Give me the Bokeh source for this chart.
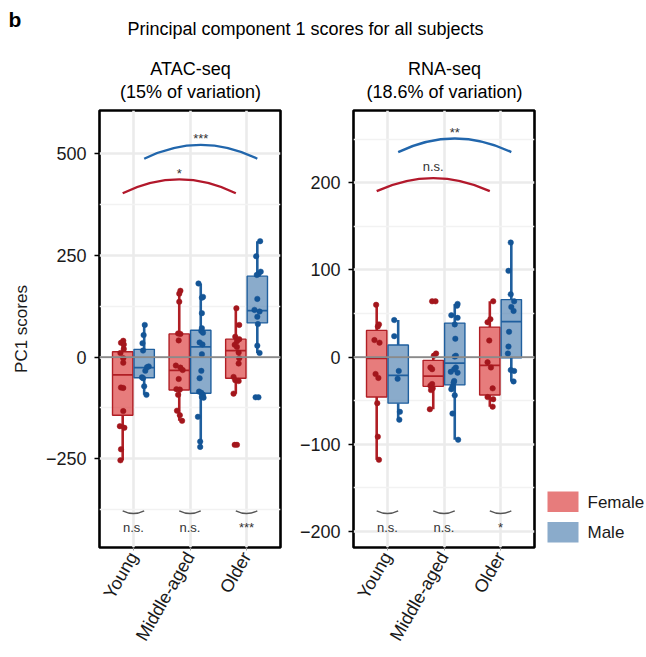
import math
from bokeh.plotting import figure
from bokeh.layouts import column, row
from bokeh.models import Range1d, FixedTicker, Span
from bokeh.embed import file_html
from bokeh.resources import INLINE
from bokeh.core.properties import value

CATEGORIES = ["Young", "Middle-aged", "Older"]
SEXES = ["Female", "Male"]

# ---------------- ATAC-seq PC1 scores ----------------
atac_female = [
    [40, 35, 31, 20, 10, -3, -14, -75, -76, -133, -170, -174, -227, -254],
    [163, 156, 136, 58, 57, 41, -21, -26, -32, -54, -79, -80, -93, -132, -143, -157],
    [120, 79, 50, 44, 39, 30, 25, 11, -3, -16, -49, -57, -59, -90, -216, -216],
]
atac_female_jitter = [
    [0.01, -0.03, 0.02, 0.02, -0.04, 0.01, 0.01, -0.03, 0.01, 0.01, -0.05, 0.03, -0.03, -0.04],
    [0.02, 0, 0, -0.02, 0.02, -0.01, -0.06, 0.02, 0.06, -0.01, -0.05, 0.01, -0.02, -0.04, 0.01, 0.05],
    [0.01, 0.06, -0.01, 0.06, 0.02, -0.02, 0.02, 0.05, 0.06, 0.05, -0.04, -0.01, 0.05, -0.04, -0.02, 0.02],
]
atac_male = [
    [79, 54, 34, 16, -23, -25, -34, -50, -52, -72, -93],
    [181, 148, 146, 108, 71, 64, 60, 36, 31, 7, -34, -52, -85, -88, -93, -98, -100, -147, -208, -221],
    [285, 248, 210, 204, 202, 143, 116, 112, 99, 81, 28, 10, -99, -99],
]
atac_male_jitter = [
    [0.01, -0.01, -0.03, -0.02, 0.08, 0.05, 0.02, -0.04, -0.02, 0.0, 0.04],
    [-0.04, 0.04, 0.02, 0.02, 0.02, 0.01, 0.04, -0.02, 0.03, 0.02, 0.01, -0.02, -0.03, 0.01, 0.04, 0.02, 0.05, -0.05, -0.01, -0.01],
    [0.05, -0.02, 0.06, 0.02, -0.01, 0, -0.05, 0.04, 0, 0.01, 0, 0.04, -0.03, 0.02],
]
# box stats per category: [lower whisker, Q1, median, Q3, upper whisker]
atac_female_box = [[-254, -143, -44, 13, 40], [-157, -81, -33, 57, 163], [-90, -52, 16, 44, 120]]
atac_male_box = [[-93, -51, -26, 19, 79], [-221, -89, 25, 66, 181], [10, 84, 114, 199, 285]]
atac_ticks = [-250, 0, 250, 500]
atac_tick_labels = ["\u2212250", "0", "250", "500"]
atac_minor_ticks = [-375, -125, 125, 375]
atac_ylim = [-468.5, 606.5]
# age comparisons (Young vs Older) per sex: [end height, apex height], label
atac_arc_female = [403, 437]
atac_arc_male = [488, 522]
atac_sig_top = ["*", "***"]
atac_sig_top_y = [452, 538]
# sex comparisons within each age group
atac_sig_bottom = ["n.s.", "n.s.", "***"]
atac_bottom_arc = [-378.5, -385]
atac_bottom_label_y = -419

# ---------------- RNA-seq PC1 scores ----------------
rna_female = [
    [60, 37.5, 35, 19.5, 16.5, -19.5, -24, -53, -91.5, -118],
    [64, 64, 4, 1.5, -12, -14, -31, -33, -36, -38, -60],
    [64, 43.5, 40, 19, -6, -12, -36, -46, -48.5, -57],
]
rna_female_jitter = [
    [-0.01, 0.04, 0.02, -0.04, 0.05, -0.02, 0.03, 0.01, 0.02, 0.04],
    [-0.02, 0.04, 0.05, 0.01, -0.05, -0.02, -0.02, -0.05, -0.01, -0.04, -0.06],
    [0.06, 0.01, -0.04, -0.01, -0.04, 0.02, 0.05, -0.04, 0.06, 0.05],
]
rna_male = [
    [42.5, 24, -16, -25, -63, -72],
    [61, 59, 48, 45, 37.5, 21, 1.5, 0.5, -12, -14, -17, -18, -27.5, -29.5, -34, -37, -44, -65, -95],
    [131.5, 99, 72, 64, 57.5, 53, 29, 12, 4, -15, -16, -28],
]
rna_male_jitter = [
    [-0.07, -0.07, 0.01, -0.01, 0.03, 0.02],
    [0.05, 0.04, -0.06, 0.05, 0, 0.01, 0.02, 0, 0.02, -0.01, -0.07, 0.05, -0.01, -0.02, -0.04, -0.06, 0, -0.04, 0.06],
    [-0.01, -0.05, -0.01, 0.05, 0, 0.04, -0.04, -0.05, -0.06, -0.01, 0.05, 0.04],
]
rna_female_box = [[-118, -46, -1.5, 30.6, 60], [-60, -33.7, -22, -3.8, 4.2], [-57, -43.6, -9.6, 34.4, 64]]
rna_male_box = [[-72, -53, -21, 13.8, 42.5], [-95, -32, -7, 39, 61], [-28, -1, 40.6, 66, 131.5]]
rna_ticks = [-200, -100, 0, 100, 200]
rna_tick_labels = ["\u2212200", "\u2212100", "0", "100", "200"]
rna_minor_ticks = [-150, -50, 50, 150, 250]
rna_ylim = [-218.8, 283.2]
rna_arc_female = [190.6, 205.5]
rna_arc_male = [235.4, 251]
rna_sig_top = ["n.s.", "**"]
rna_sig_top_y = [219, 257.6]
rna_sig_bottom = ["n.s.", "n.s.", "*"]
rna_bottom_arc = [-176.8, -179.8]
rna_bottom_label_y = -196

# ---------------- styling ----------------
FONT = "Liberation Sans"
FEMALE_FILL = "#DD4545"
MALE_FILL = "#5888B5"
FILL_ALPHA = 0.7
FEMALE_LINE = "#B01E24"
MALE_LINE = "#1F5F9E"
FEMALE_PT = "#A3161C"
MALE_PT = "#145596"
ARC_RED = "#B2182B"
ARC_BLUE = "#2166AC"
DODGE = 0.19
BOX_W = 0.36
FRAME_H = 437
FRAME_W = 181
TOP_B = 8
BOTTOM_B = 106
HEADER_H = 102
PANEL_H = TOP_B + FRAME_H + BOTTOM_B


def make_panel(female, female_jit, male, male_jit, fbox, mbox, ylim, ticks, tick_labels,
               minor_ticks, arc_f, arc_m, sig_top, sig_top_y, sig_bottom, bottom_arc,
               bottom_label_y, left, right, ylabel=None):
    p = figure(width=left + FRAME_W + right, height=PANEL_H,
               x_range=Range1d(0.4, 3.6), y_range=Range1d(ylim[0], ylim[1]),
               output_backend="svg", toolbar_location=None,
               min_border_left=left, min_border_right=right,
               min_border_top=TOP_B, min_border_bottom=BOTTOM_B)
    p.background_fill_color = "white"
    p.border_fill_color = "white"
    p.outline_line_color = "black"
    p.outline_line_width = 2.6

    # x axis
    p.xaxis.ticker = FixedTicker(ticks=[1, 2, 3])
    p.xaxis.major_label_overrides = {i + 1: c for i, c in enumerate(CATEGORIES)}
    p.xaxis.major_label_orientation = math.radians(60)
    p.xaxis.major_label_text_font = FONT
    p.xaxis.major_label_text_font_size = "18px"
    p.xaxis.major_label_text_color = "#1A1A1A"
    p.xaxis.major_label_standoff = 3
    p.xaxis.axis_line_color = None
    p.xaxis.major_tick_line_color = "#9A9A9A"
    p.xaxis.major_tick_out = 3
    p.xaxis.major_tick_in = 0
    p.xaxis.minor_tick_line_color = None

    # y axis
    p.yaxis.ticker = FixedTicker(ticks=ticks, minor_ticks=minor_ticks)
    p.yaxis.major_label_overrides = {t: l for t, l in zip(ticks, tick_labels)}
    p.yaxis.major_label_text_font = FONT
    p.yaxis.major_label_text_font_size = "18px"
    p.yaxis.major_label_text_color = "#1A1A1A"
    p.yaxis.major_label_standoff = 8
    p.yaxis.axis_line_color = None
    p.yaxis.major_tick_line_color = "black"
    p.yaxis.major_tick_line_width = 1.6
    p.yaxis.major_tick_out = 5
    p.yaxis.major_tick_in = 0
    p.yaxis.minor_tick_line_color = None
    if ylabel:
        p.yaxis.axis_label = ylabel
        p.yaxis.axis_label_text_font = FONT
        p.yaxis.axis_label_text_font_size = "17px"
        p.yaxis.axis_label_text_font_style = "normal"
        p.yaxis.axis_label_text_color = "#1A1A1A"
        p.yaxis.axis_label_standoff = 12

    # grid
    p.xgrid.grid_line_color = "#EBEBEB"
    p.xgrid.grid_line_width = 2.6
    p.ygrid.grid_line_color = "#EBEBEB"
    p.ygrid.grid_line_width = 2.6
    p.ygrid.minor_grid_line_color = "#F2F2F2"
    p.ygrid.minor_grid_line_width = 1.3

    groups = [(female, female_jit, fbox, -DODGE, FEMALE_FILL, FEMALE_LINE, FEMALE_PT),
              (male, male_jit, mbox, DODGE, MALE_FILL, MALE_LINE, MALE_PT)]
    for vals, jits, box, off, fill, line, pt in groups:
        xc = [i + 1 + off for i in range(len(CATEGORIES))]
        lo = [b[0] for b in box]
        q1 = [b[1] for b in box]
        med = [b[2] for b in box]
        q3 = [b[3] for b in box]
        hi = [b[4] for b in box]
        p.segment(x0=xc, y0=q3, x1=xc, y1=hi, line_color=line, line_width=2.6)
        p.segment(x0=xc, y0=q1, x1=xc, y1=lo, line_color=line, line_width=2.6)
        p.quad(left=[x - BOX_W / 2 for x in xc], right=[x + BOX_W / 2 for x in xc],
               top=q3, bottom=q1, fill_color=fill, fill_alpha=FILL_ALPHA,
               line_color=line, line_width=1.4)
        p.segment(x0=[x - BOX_W / 2 for x in xc], y0=med, x1=[x + BOX_W / 2 for x in xc],
                  y1=med, line_color=line, line_width=1.8)
        px, py = [], []
        for i, (vs, js) in enumerate(zip(vals, jits)):
            for v, j in zip(vs, js):
                px.append(xc[i] + j)
                py.append(v)
        p.scatter(px, py, size=5.5, fill_color=pt, line_color=pt, line_width=0.5)

    p.add_layout(Span(location=0, dimension="width", line_color="#8A8A8A", line_width=1.8))

    # Young vs Older brackets per sex
    for arc, off, col in [(arc_f, -DODGE, ARC_RED), (arc_m, DODGE, ARC_BLUE)]:
        p.quadratic(x0=[1 + off], y0=[arc[0]], x1=[3 + off], y1=[arc[0]],
                    cx=[2 + off], cy=[2 * arc[1] - arc[0]], line_color=col, line_width=2.3)
    p.text(x=[2 - DODGE, 2 + DODGE], y=sig_top_y, text=sig_top, text_align="center",
           text_baseline="middle", text_font=value(FONT), text_font_size="13px",
           text_color="#333333")

    # Female vs Male within each age group
    xs = [i + 1 for i in range(len(CATEGORIES))]
    p.quadratic(x0=[x - DODGE for x in xs], y0=[bottom_arc[0]] * 3,
                x1=[x + DODGE for x in xs], y1=[bottom_arc[0]] * 3,
                cx=xs, cy=[2 * bottom_arc[1] - bottom_arc[0]] * 3,
                line_color="#555555", line_width=1.4)
    p.text(x=xs, y=[bottom_label_y] * 3, text=sig_bottom, text_align="center",
           text_baseline="middle", text_font=value(FONT), text_font_size="13px",
           text_color="#333333")
    return p


left = make_panel(atac_female, atac_female_jitter, atac_male, atac_male_jitter,
                  atac_female_box, atac_male_box, atac_ylim, atac_ticks, atac_tick_labels,
                  atac_minor_ticks, atac_arc_female, atac_arc_male, atac_sig_top,
                  atac_sig_top_y, atac_sig_bottom, atac_bottom_arc, atac_bottom_label_y,
                  left=99, right=10, ylabel="PC1 scores")
right = make_panel(rna_female, rna_female_jitter, rna_male, rna_male_jitter,
                   rna_female_box, rna_male_box, rna_ylim, rna_ticks, rna_tick_labels,
                   rna_minor_ticks, rna_arc_female, rna_arc_male, rna_sig_top,
                   rna_sig_top_y, rna_sig_bottom, rna_bottom_arc, rna_bottom_label_y,
                   left=63, right=6)

# legend (Sex) drawn in its own strip right of the RNA-seq panel.
# The strip's frame is aligned with the panels' frames, so its ranges are
# set in page pixels spanning exactly that frame.
LEG_X0 = left.width + right.width
LEG_W = 644 - LEG_X0
FRAME_TOP = HEADER_H + TOP_B
leg = figure(width=LEG_W, height=PANEL_H, x_range=Range1d(LEG_X0, 644),
             y_range=Range1d(FRAME_TOP + FRAME_H, FRAME_TOP), output_backend="svg",
             toolbar_location=None, x_axis_type=None, y_axis_type=None, min_border=0)
leg.outline_line_color = None
leg.grid.visible = False
SW_X, SW_W, SW_H, ROW_H = LEG_X0 + 7, 31, 20.5, 30.5
row_top = [491 + ROW_H * k for k in range(len(SEXES))]
leg.quad(left=[SW_X] * 2, right=[SW_X + SW_W] * 2, top=row_top,
         bottom=[t + SW_H for t in row_top], fill_color=[FEMALE_FILL, MALE_FILL],
         fill_alpha=FILL_ALPHA, line_color=None)
leg.text(x=[SW_X + SW_W + 9] * 2, y=[t + SW_H / 2 + 0.5 for t in row_top], text=SEXES,
         text_align="left", text_baseline="middle", text_font=value(FONT),
         text_font_size="17px", text_color="#1A1A1A")

# header with titles (coordinates = page pixels)
header = figure(width=644, height=HEADER_H, x_range=Range1d(0, 644),
                y_range=Range1d(HEADER_H, 0), output_backend="svg", toolbar_location=None,
                x_axis_type=None, y_axis_type=None, min_border=0)
header.outline_line_color = None
header.grid.visible = False
header.text(x=[8], y=[19], text=["b"], text_align="left", text_baseline="middle",
            text_font=value(FONT), text_font_size="21px", text_font_style="bold",
            text_color="black")
header.text(x=[305], y=[28], text=["Principal component 1 scores for all subjects"],
            text_align="center", text_baseline="middle", text_font=value(FONT),
            text_font_size="18px", text_color="black")
header.text(x=[190, 190, 444, 444], y=[68, 91, 68, 91],
            text=["ATAC-seq", "(15% of variation)", "RNA-seq", "(18.6% of variation)"],
            text_align="center", text_baseline="middle", text_font=value(FONT),
            text_font_size="18px", text_color="black")

layout = column(header, row(left, right, leg, spacing=0), spacing=0)
open("out.html", "w").write(file_html(layout, INLINE))
